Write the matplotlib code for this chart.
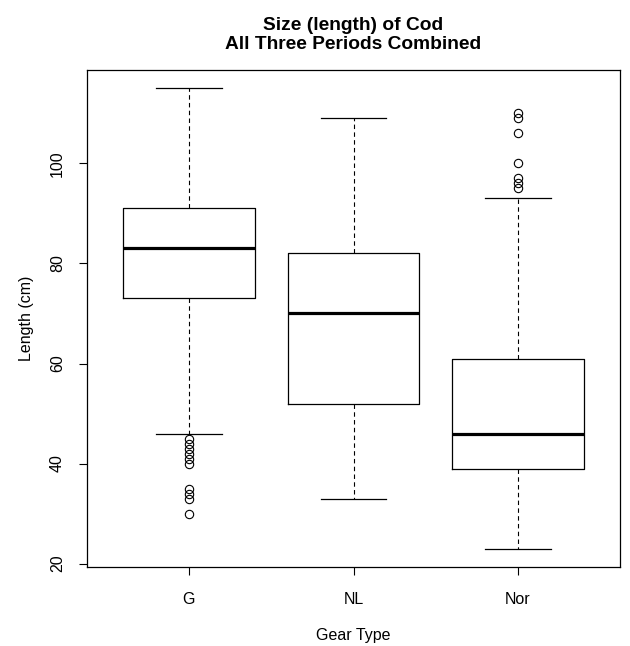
import matplotlib
matplotlib.use("Agg")
import matplotlib.pyplot as plt

plt.rcParams["font.family"] = ["Liberation Sans", "DejaVu Sans"]

# gear types and their box statistics
gears = ["G", "NL", "Nor"]
whislo = [46, 33, 23]
q1 = [73, 52, 39]
med = [83, 70, 46]
q3 = [91, 82, 61]
whishi = [115, 109, 93]
fliers = [
    [45, 44, 43, 42, 41, 40, 35, 34, 33, 30],
    [],
    [110, 109, 106, 100, 97, 96, 95],
]

stats = []
for i, g in enumerate(gears):
    stats.append(dict(label=g, whislo=whislo[i], q1=q1[i], med=med[i],
                      q3=q3[i], whishi=whishi[i], fliers=fliers[i]))

fig = plt.figure(figsize=(6.3, 6.46), dpi=100)
ax = fig.add_axes([87 / 630, 1 - 567 / 646, 533 / 630, 497 / 646])

ax.bxp(
    stats,
    positions=[1, 2, 3],
    widths=0.8,
    capwidths=0.4,
    boxprops=dict(color="black", linewidth=0.9),
    medianprops=dict(color="black", linewidth=2.3, solid_capstyle="butt"),
    whiskerprops=dict(color="black", linewidth=0.8, linestyle=(0, (4, 3))),
    capprops=dict(color="black", linewidth=0.9),
    flierprops=dict(marker="o", markerfacecolor="none", markeredgecolor="black",
                    markersize=6, markeredgewidth=0.8),
)

ax.set_xlim(0.38, 3.62)
ax.set_ylim(19.32, 118.68)
ax.set_xticks([1, 2, 3])
ax.set_xticklabels(gears)
ax.set_yticks([20, 40, 60, 80, 100])
ax.set_yticklabels(["20", "40", "60", "80", "100"], rotation=90, va="center")
ax.tick_params(direction="out", length=6, width=0.8, labelsize=11.5)
ax.tick_params(axis="x", pad=12)
ax.tick_params(axis="y", pad=10)

ax.set_xlabel("Gear Type", fontsize=11.5, labelpad=15)
ax.set_ylabel("Length (cm)", fontsize=11.5, labelpad=11)
ax.set_title("Size (length) of Cod\nAll Three Periods Combined",
             fontsize=13.8, fontweight="bold", pad=15, linespacing=1.2)

for s in ax.spines.values():
    s.set_linewidth(0.9)

fig.savefig("out.png", dpi=100)
